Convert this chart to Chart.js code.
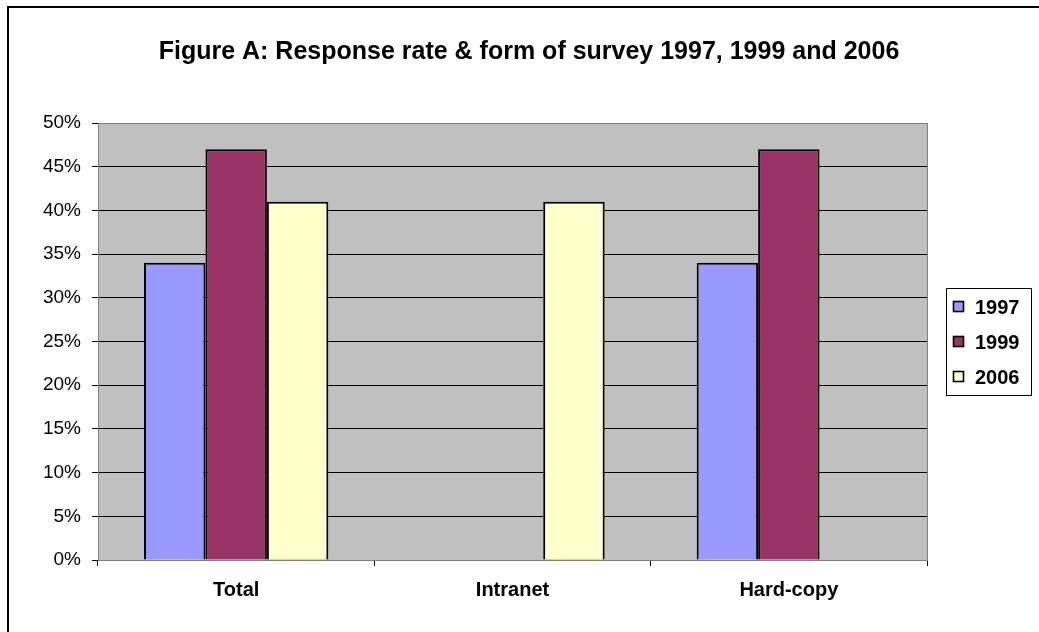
<!DOCTYPE html>
<html lang="en">
<head>
    <meta charset="UTF-8">
    <title>Figure A: Response rate & form of survey</title>
    <script src="https://cdn.jsdelivr.net/npm/chart.js"></script>
    <style>
        body {
            margin: 0;
            padding: 0;
            background-color: #ffffff;
        }

        .chart-container {
            width: 1039px;
            height: 632px;
        }
    </style>
</head>
<body>

    <div class="chart-container">
        <canvas id="surveyChart"></canvas>
    </div>

    <script>
        // Chart data
        const chartTitle = 'Figure A: Response rate & form of survey 1997, 1999 and 2006';
        const categories = ['Total', 'Intranet', 'Hard-copy'];
        const seriesNames = ['1997', '1999', '2006'];
        const values1997 = [0.34, null, 0.34];
        const values1999 = [0.47, null, 0.47];
        const values2006 = [0.41, 0.41, null];
        const seriesColors = ['#9999ff', '#993366', '#ffffcc'];

        const FONT = '"Liberation Sans", Arial, sans-serif';

        // Grey plot area, outer frame, title and boxed legend (Excel style)
        const excelLook = {
            id: 'excelLook',
            beforeDraw(chart) {
                const ctx = chart.ctx;
                const a = chart.chartArea;
                ctx.save();
                ctx.fillStyle = '#c0c0c0';
                ctx.fillRect(a.left, a.top, a.right - a.left, a.bottom - a.top);
                ctx.restore();
            },
            afterDraw(chart) {
                const ctx = chart.ctx;
                const a = chart.chartArea;
                ctx.save();

                // plot area frame
                ctx.strokeStyle = '#808080';
                ctx.lineWidth = 1;
                ctx.strokeRect(a.left + 0.5, a.top + 0.5, a.right - a.left, a.bottom - a.top);

                // outer frame (right and bottom edges fall outside the picture)
                ctx.strokeStyle = '#000000';
                ctx.lineWidth = 2;
                ctx.strokeRect(8, 7, 1100, 700);

                // title
                ctx.fillStyle = '#000000';
                ctx.font = 'bold 25px ' + FONT;
                ctx.textAlign = 'center';
                ctx.textBaseline = 'middle';
                ctx.fillText(chartTitle, 529, 52);

                // legend
                ctx.lineWidth = 1;
                ctx.strokeStyle = '#000000';
                ctx.strokeRect(946.5, 288.5, 85, 107);
                ctx.font = 'bold 20px ' + FONT;
                ctx.textAlign = 'left';
                chart.data.datasets.forEach((ds, i) => {
                    const y = 307 + i * 35;
                    ctx.fillStyle = ds.backgroundColor;
                    ctx.fillRect(953, y - 6, 11, 11);
                    ctx.lineWidth = 1.6;
                    ctx.strokeRect(953.5, y - 5.5, 10, 10);
                    ctx.fillStyle = '#000000';
                    ctx.fillText(ds.label, 975, y + 1);
                });

                ctx.restore();
            }
        };

        function initializeChart() {
            const ctx = document.getElementById('surveyChart').getContext('2d');
            const allValues = [values1997, values1999, values2006];

            new Chart(ctx, {
                type: 'bar',
                data: {
                    labels: categories,
                    datasets: seriesNames.map((name, i) => ({
                        label: name,
                        data: allValues[i],
                        backgroundColor: seriesColors[i],
                        borderColor: '#000000',
                        borderWidth: 2,
                        categoryPercentage: 0.667,
                        barPercentage: 1.0
                    }))
                },
                options: {
                    responsive: true,
                    maintainAspectRatio: false,
                    animation: false,
                    layout: {
                        padding: { top: 123, right: 112, bottom: 0, left: 0 }
                    },
                    plugins: {
                        title: { display: false },
                        legend: { display: false },
                        tooltip: { enabled: false }
                    },
                    scales: {
                        x: {
                            offset: true,
                            afterFit: scale => { scale.height = 72; },
                            grid: {
                                offset: true,
                                drawOnChartArea: false,
                                drawTicks: true,
                                tickLength: 6,
                                color: '#000000'
                            },
                            border: { color: '#404040', width: 1 },
                            ticks: {
                                color: '#000000',
                                padding: 12,
                                font: { family: FONT, size: 20, weight: 'bold' }
                            }
                        },
                        y: {
                            min: 0,
                            max: 0.5,
                            afterFit: scale => { scale.width = 98; },
                            grid: {
                                color: ctx => (ctx.tick && ctx.tick.value >= 0.5 ? '#808080' : '#000000'),
                                tickColor: '#000000',
                                tickLength: 6
                            },
                            border: { color: '#808080', width: 1 },
                            ticks: {
                                stepSize: 0.05,
                                color: '#000000',
                                padding: 11,
                                font: { family: FONT, size: 19 },
                                callback: value => Math.round(value * 100) + '%'
                            }
                        }
                    }
                },
                plugins: [excelLook]
            });
        }

        window.onload = initializeChart;
    </script>

</body>
</html>
